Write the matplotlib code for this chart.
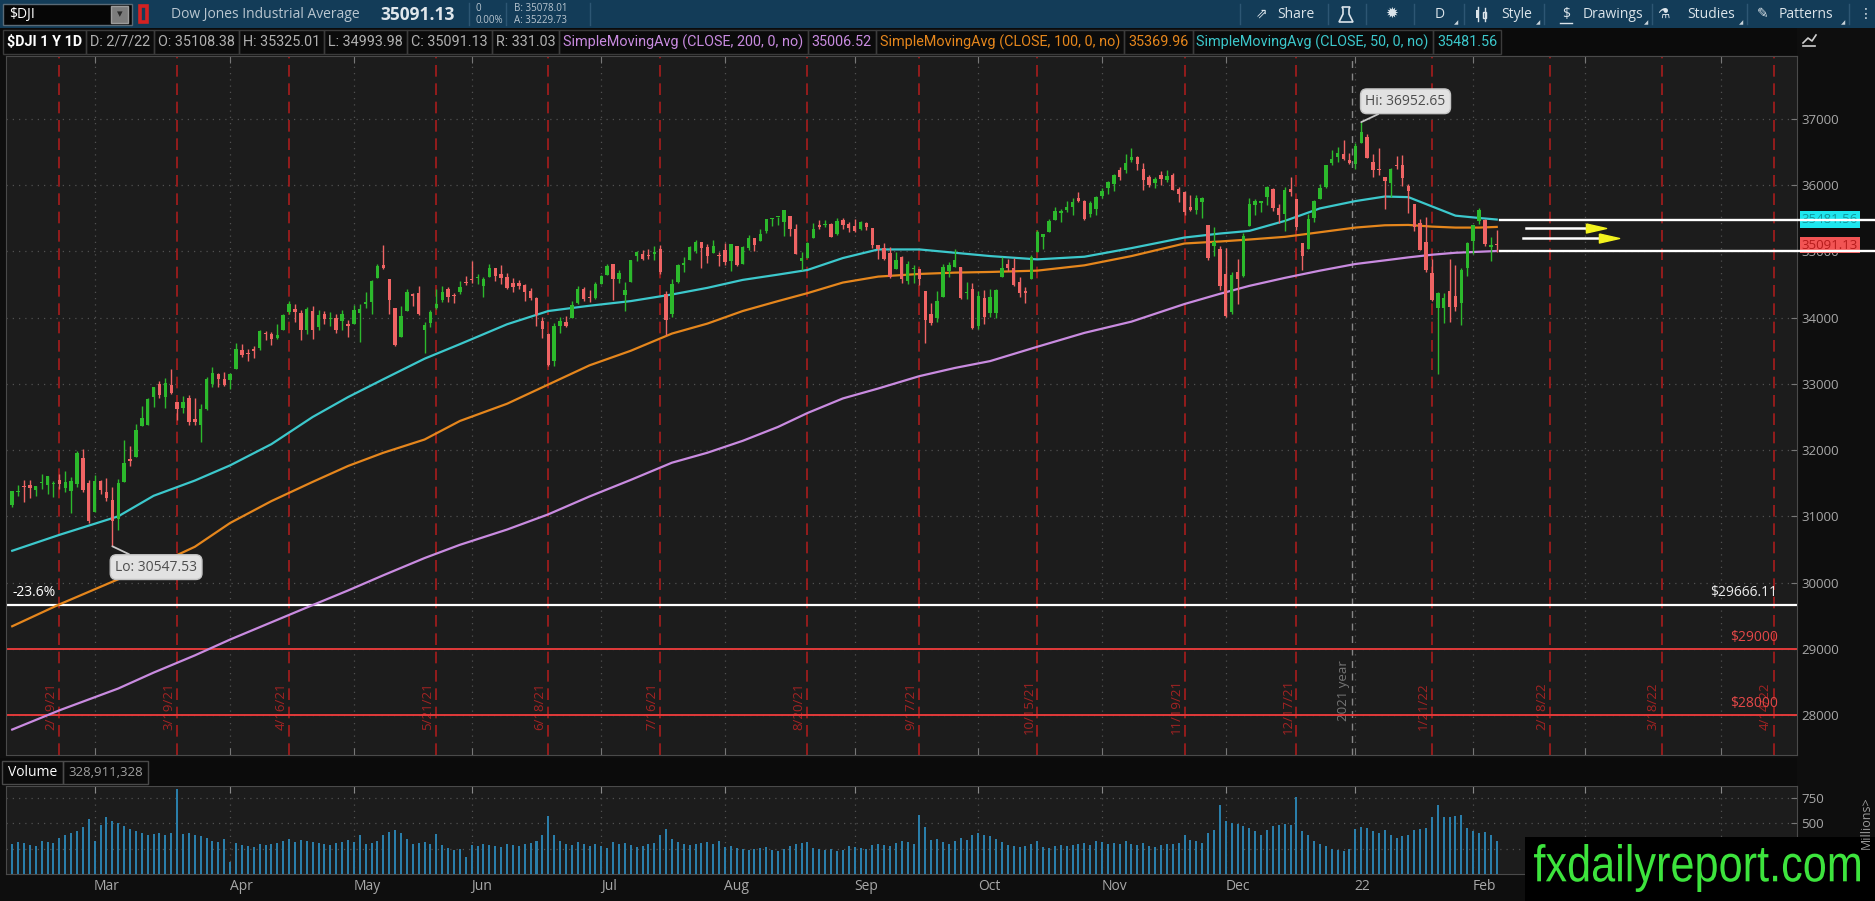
import numpy as np
import pandas as pd
import matplotlib
matplotlib.use("Agg")
import matplotlib.pyplot as plt
import matplotlib.transforms as mtransforms
from matplotlib.patches import Rectangle, PathPatch, Polygon
from matplotlib.textpath import TextPath
from matplotlib.font_manager import FontProperties
from matplotlib.transforms import Affine2D

plt.rcParams["font.family"] = ["Open Sans", "DejaVu Sans"]

# ---------------- data ----------------
market_holidays = ["2021-02-15", "2021-04-02", "2021-05-31", "2021-07-05", "2021-09-06",
                   "2021-11-25", "2021-12-24", "2022-01-17", "2022-02-21", "2022-04-15"]

# daily OHLC, $DJI, 2021-02-08 .. 2022-02-07 (one row per month)
opens = (
    [31171, 31370, 31448, 31479, 31402, 31497, 31468, 31490, 31542, 31431, 31384, 31484, 31883, 31505]
    + [31066, 31527, 31374, 31245, 30955, 31519, 31870, 31891, 32364, 32385, 32802, 32999, 32796, 32990, 32727, 32634, 32787, 32476, 32383, 32615, 33000, 33150, 33081]
    + [33055, 33222, 33518, 33452, 33528, 33539, 33765, 33754, 33694, 33816, 34083, 34136, 34072, 33811, 34108, 33859, 34051, 33979, 34001, 33951, 33908]
    + [33904, 34070, 34210, 34236, 34592, 34792, 34580, 34152, 33705, 34104, 34357, 34373, 33808, 33918, 34141, 34267, 34431, 34345, 34381, 34539]
    + [34584, 34598, 34479, 34617, 34752, 34664, 34613, 34517, 34519, 34486, 34395, 34303, 33951, 33759, 33339, 33872, 33928, 33990, 34220, 34439, 34309, 34296]
    + [34507, 34642, 34806, 34587, 34342, 34533, 34934, 34961, 34940, 34960, 35033, 34363, 34058, 34539, 34802, 34877, 35006, 35144, 35070, 34973, 34940]
    + [35017, 34849, 35082, 34805, 35053, 35198, 35150, 35310, 35486, 35516, 35443, 35536, 35341, 34849, 34897, 35199, 35395, 35395, 35410, 35264, 35469, 35411]
    + [35387, 35346, 35426, 35354, 35103, 35053, 34979, 34741, 34915, 34558, 34731, 34737, 34401, 34050, 33989, 34313, 34707, 34766, 34761, 34373, 34440]
    + [33874, 34293, 34069, 34077, 34609, 34803, 34745, 34543, 34406, 34585, 34992, 35220, 35294, 35475, 35577, 35622, 35677, 35814, 35758, 35560, 35645]
    + [35833, 35965, 36014, 36236, 36233, 36377, 36431, 36239, 36124, 36033, 36161, 36075, 36152, 35949, 35901, 35676, 35629, 35742, 35392, 35089, 35034]
    + [34657, 34081, 34692, 34636, 35379, 35701, 35730, 35825, 35944, 35662, 35571, 35945, 35790, 35123, 35040, 35498, 35785, 35973, 36330, 36421, 36469, 36374]
    + [36322, 36636, 36722, 36353, 36249, 36120, 36030, 36300, 36304, 35991, 35720, 35425, 35142, 34677, 34143, 34140, 34410, 34326, 34224, 34748]
    + [35150, 35459, 35468, 35070, 35108.38]
)
highs = (
    [31387, 31467, 31541, 31543, 31459, 31644, 31614, 31536, 31643, 31686, 31594, 31981, 32010, 31554]
    + [31627, 31542, 31585, 31437, 31568, 32150, 32056, 32389, 32661, 32793, 32956, 33047, 33082, 33227, 32731, 32819, 32835, 32782, 32693, 33098, 33259, 33169, 33174]
    + [33167, 33617, 33595, 33531, 33578, 33810, 33800, 33780, 33900, 34058, 34257, 34201, 34122, 34161, 34182, 34116, 34099, 34087, 34050, 34123, 33958]
    + [34187, 34210, 34388, 34566, 34811, 35091, 34580, 34152, 34170, 34437, 34379, 34472, 33930, 34118, 34437, 34481, 34462, 34377, 34560, 34630]
    + [34849, 34656, 34608, 34816, 34752, 34792, 34680, 34600, 34576, 34503, 34444, 34311, 34007, 33768, 33918, 34003, 34021, 34244, 34474, 34459, 34424, 34536]
    + [34650, 34810, 34808, 34719, 34536, 34873, 35006, 35024, 35041, 35086, 35091, 34404, 34577, 34803, 34915, 35080, 35171, 35144, 35118, 35171, 34993]
    + [35120, 35118, 35082, 35076, 35245, 35207, 35340, 35492, 35511, 35520, 35631, 35536, 35419, 34997, 35138, 35428, 35472, 35480, 35423, 35512, 35509, 35437]
    + [35493, 35456, 35442, 35354, 35103, 35125, 35064, 34997, 34924, 34850, 34789, 34740, 34401, 34228, 34402, 34813, 34845, 35031, 34761, 34541, 34517]
    + [34401, 34411, 34437, 34431, 34909, 34893, 34899, 34620, 34458, 34945, 35320, 35265, 35490, 35669, 35637, 35765, 35801, 35892, 35780, 35755, 35839]
    + [35952, 36069, 36175, 36273, 36471, 36565, 36438, 36341, 36149, 36127, 36211, 36226, 36181, 35968, 35918, 35857, 35845, 35815, 35392, 35364, 35087]
    + [35045, 34685, 34890, 35274, 35808, 35794, 35760, 35985, 35961, 35710, 35978, 36120, 35790, 35123, 35565, 35778, 36019, 36302, 36527, 36571, 36679, 36484]
    + [36636, 36952.65, 36780, 36466, 36555, 36120, 36259, 36435, 36459, 36021, 35720, 35492, 35519, 34882, 34388, 34374, 34882, 34788, 34744, 35148]
    + [35406, 35650, 35496, 35217, 35325.01]
)
lows = (
    [31148, 31313, 31212, 31281, 31308, 31420, 31330, 31293, 31408, 31371, 31049, 31437, 31360, 30905]
    + [31066, 31333, 31233, 30547.53, 30790, 31519, 31766, 31891, 32364, 32385, 32650, 32783, 32631, 32853, 32454, 32557, 32374, 32386, 32120, 32605, 32946, 32960, 32971]
    + [32920, 33222, 33400, 33353, 33390, 33507, 33664, 33586, 33677, 33816, 34055, 33940, 33656, 33760, 33684, 33808, 33906, 33880, 33765, 33809, 33714]
    + [33904, 33638, 34153, 34056, 34592, 34734, 34050, 33570, 33705, 34104, 34173, 34038, 33473, 33853, 34131, 34240, 34233, 34223, 34357, 34488]
    + [34530, 34501, 34312, 34617, 34556, 34505, 34436, 34388, 34432, 34244, 34264, 33877, 33700, 33272, 33271, 33764, 33865, 33990, 34211, 34245, 34232, 34289]
    + [34507, 34642, 34274, 34520, 34095, 34533, 34863, 34870, 34879, 34870, 34656, 33741, 34016, 34525, 34689, 34877, 34977, 34745, 34831, 34973, 34773]
    + [34795, 34706, 34781, 34805, 35021, 35012, 35150, 35283, 35378, 35406, 35232, 35229, 34962, 34713, 34896, 35199, 35332, 35370, 35212, 35250, 35337, 35299]
    + [35299, 35321, 35320, 35051, 34881, 34866, 34601, 34741, 34529, 34510, 34522, 34489, 33613, 33892, 33937, 34313, 34609, 34766, 34288, 34285, 33830]
    + [33822, 33903, 34007, 33991, 34609, 34702, 34483, 34312, 34221, 34585, 34992, 35042, 35294, 35475, 35443, 35598, 35553, 35753, 35480, 35525, 35555]
    + [35802, 35862, 35908, 36085, 36186, 36345, 36231, 35927, 35967, 35951, 35999, 36051, 35931, 35748, 35544, 35611, 35567, 35502, 34865, 34932, 34424]
    + [34006, 34050, 34208, 34620, 35379, 35551, 35592, 35700, 35604, 35434, 35302, 35842, 35325, 34720, 35040, 35438, 35785, 35965, 36301, 36344, 36381, 36315]
    + [36246, 36636, 36407, 36120, 36155, 35641, 35825, 36249, 35995, 35581, 35311, 35024, 34683, 34258, 33150, 33913, 33933, 34104, 33892, 34628]
    + [34960, 35411, 35081, 34849, 34993.98]
)
closes = (
    [31386, 31376, 31438, 31431, 31458, 31523, 31613, 31494, 31494, 31522, 31537, 31962, 31402, 30932]
    + [31535, 31391, 31270, 30924, 31496, 31802, 31833, 32297, 32485, 32779, 32953, 32826, 33015, 32862, 32628, 32731, 32423, 32420, 32619, 33072, 33171, 33067, 32982]
    + [33153, 33527, 33430, 33446, 33503, 33801, 33746, 33677, 33731, 34036, 34200, 34078, 33821, 34137, 33815, 34043, 33982, 33985, 33820, 34060, 33875]
    + [34113, 34133, 34230, 34548, 34778, 34743, 34270, 33587, 34022, 34382, 34328, 34060, 33896, 34084, 34208, 34394, 34313, 34323, 34465, 34529]
    + [34575, 34600, 34577, 34756, 34630, 34599, 34447, 34466, 34480, 34393, 34299, 34033, 33823, 33290, 33877, 33945, 33874, 34196, 34433, 34283, 34292, 34503]
    + [34633, 34786, 34577, 34681, 34421, 34870, 34996, 34889, 34933, 34987, 34688, 33962, 34512, 34798, 34823, 35062, 35144, 35059, 34931, 35085, 34935]
    + [34838, 35117, 34793, 35065, 35209, 35102, 35265, 35485, 35500, 35516, 35625, 35343, 34961, 34894, 35120, 35336, 35367, 35406, 35214, 35456, 35400, 35361]
    + [35313, 35444, 35369, 35100, 35031, 34879, 34608, 34870, 34577, 34814, 34751, 34584, 33970, 33919, 34258, 34765, 34798, 34870, 34300, 34391, 33844]
    + [34326, 34003, 34315, 34417, 34755, 34746, 34496, 34378, 34377, 34912, 35295, 35259, 35458, 35610, 35603, 35677, 35742, 35757, 35491, 35731, 35820]
    + [35913, 36053, 36158, 36124, 36328, 36432, 36320, 36080, 36000, 36100, 36087, 36143, 35931, 35871, 35602, 35619, 35814, 35805, 34899, 35136, 34484]
    + [34022, 34640, 34580, 35227, 35720, 35754, 35754, 35971, 35651, 35544, 35927, 35898, 35365, 34932, 35493, 35754, 35951, 36302, 36398, 36488, 36398, 36338]
    + [36585, 36800, 36408, 36236, 36231, 36068, 36252, 36290, 36114, 35912, 35369, 35029, 34715, 34265, 34365, 34298, 34168, 34161, 34725, 35132]
    + [35405, 35629, 35111, 35090, 35091.13]
)
# volume, millions
volumes = (
    [300, 320, 310, 290, 280, 330, 320, 310, 360, 380, 400, 420, 460, 540]
    + [330, 480, 560, 520, 500, 470, 440, 420, 400, 380, 390, 400, 380, 400, 840, 390, 400, 380, 370, 360, 330, 320, 350]
    + [120, 310, 290, 280, 270, 300, 290, 300, 310, 330, 350, 320, 340, 330, 320, 310, 300, 290, 310, 320, 340]
    + [320, 380, 300, 310, 330, 380, 410, 430, 400, 350, 300, 310, 320, 300, 390, 290, 260, 240, 250, 170]
    + [290, 280, 300, 290, 280, 270, 300, 290, 280, 300, 310, 330, 380, 570, 380, 330, 300, 290, 320, 300, 280, 300]
    + [280, 260, 320, 300, 310, 290, 270, 280, 300, 310, 380, 440, 350, 320, 300, 290, 300, 310, 320, 300, 330]
    + [270, 280, 260, 250, 240, 250, 260, 270, 240, 230, 250, 280, 300, 310, 320, 260, 250, 240, 250, 230, 240, 280]
    + [270, 260, 250, 290, 300, 290, 280, 310, 330, 320, 300, 580, 460, 340, 350, 320, 300, 330, 360, 340, 380]
    + [400, 380, 370, 350, 320, 290, 280, 270, 280, 300, 330, 270, 260, 280, 290, 280, 290, 300, 310, 290, 330]
    + [320, 300, 310, 300, 330, 300, 290, 310, 280, 270, 290, 300, 300, 310, 380, 340, 330, 310, 400, 430, 680]
    + [520, 500, 490, 470, 450, 420, 380, 430, 470, 480, 490, 480, 760, 420, 380, 330, 300, 280, 250, 240, 230, 250]
    + [440, 460, 450, 420, 400, 430, 380, 360, 370, 380, 430, 440, 450, 560, 680, 560, 560, 570, 580, 450]
    + [420, 400, 410, 380, 328.911328]
)
last_volume = 328911328

sma_dates = ["2021-02-08", "2021-02-19", "2021-03-05", "2021-03-15", "2021-03-24", "2021-04-01",
             "2021-04-13", "2021-04-22", "2021-04-30", "2021-05-10", "2021-05-19", "2021-05-27",
             "2021-06-09", "2021-06-18", "2021-06-29", "2021-07-09", "2021-07-20", "2021-07-28",
             "2021-08-05", "2021-08-13", "2021-08-20", "2021-08-30", "2021-09-08", "2021-09-17",
             "2021-09-27", "2021-10-05", "2021-10-15", "2021-10-27", "2021-11-08", "2021-11-19",
             "2021-11-30", "2021-12-07", "2021-12-15", "2021-12-23", "2022-01-03", "2022-01-10",
             "2022-01-14", "2022-01-21", "2022-01-27", "2022-02-02", "2022-02-07"]
sma50 = [30480, 30720, 31000, 31310, 31540, 31770, 32090, 32500, 32800, 33070, 33380, 33600,
         33900, 34100, 34180, 34250, 34350, 34450, 34570, 34650, 34720, 34900, 35030, 35030,
         34980, 34930, 34880, 34920, 35050, 35210, 35270, 35310, 35460, 35650, 35760, 35829,
         35820, 35680, 35540, 35505, 35481.56]
sma100 = [29340, 29670, 30050, 30250, 30540, 30900, 31230, 31520, 31760, 31960, 32160, 32440,
          32700, 32990, 33280, 33500, 33760, 33910, 34100, 34250, 34370, 34530, 34620, 34660,
          34680, 34690, 34710, 34790, 34930, 35120, 35150, 35180, 35220, 35290, 35360, 35395,
          35400, 35375, 35360, 35360, 35369.96]
sma200 = [27780, 28070, 28400, 28640, 28900, 29140, 29400, 29660, 29880, 30110, 30370, 30570,
          30800, 31030, 31300, 31550, 31810, 31960, 32140, 32350, 32560, 32780, 32930, 33117,
          33240, 33344, 33560, 33770, 33940, 34206, 34360, 34480, 34600, 34710, 34810, 34865,
          34910, 34950, 34980, 34995, 35006.52]

expiry_dates = ["2021-02-19", "2021-03-19", "2021-04-16", "2021-05-21", "2021-06-18", "2021-07-16",
                "2021-08-20", "2021-09-17", "2021-10-15", "2021-11-19", "2021-12-17", "2022-01-21",
                "2022-02-18", "2022-03-18", "2022-04-14"]
expiry_labels = ["2/19/21", "3/19/21", "4/16/21", "5/21/21", "6/18/21", "7/16/21", "8/20/21",
                 "9/17/21", "10/15/21", "11/19/21", "12/17/21", "1/21/22", "2/18/22", "3/18/22", "4/14/22"]

price_ticks = [28000, 29000, 30000, 31000, 32000, 33000, 34000, 35000, 36000, 37000]
volume_ticks = [250, 500, 750]
fib_level = 29666.11
fib_label = "-23.6%"
red_levels = [29000, 28000]
# hand-drawn arrows: (start offset, tip offset, price)
arrow_rows = [(256.9, 270.5, 35353), (256.4, 272.7, 35202)]

# ---------------- style ----------------
W, H = 1875, 901
PLOT_BG = "#1c1c1c"
FIG_BG = "#0e0e0e"
GREEN = "#2cb92c"
RED = "#ef6464"
CYAN = "#3cc8cc"
ORANGE = "#e5861c"
VIOLET = "#c98be0"
GRID = "#505050"
EXP_RED = "#a81c1c"
TICK_GRAY = "#a8a8a8"
UI_FONT = ["Roboto", "DejaVu Sans"]

X0, X1 = 6, 1797          # plot pixel span
Y0, Y1 = 56, 755           # main panel
VY0, VY1 = 786, 874        # volume panel
PX_DAY = 5.891
FIRST_X = 12.2
xmin = (X0 - FIRST_X) / PX_DAY
xmax = xmin + (X1 - X0) / PX_DAY


def fig_rect(x0, y0, x1, y1):
    return [x0 / W, 1 - y1 / H, (x1 - x0) / W, (y1 - y0) / H]


days = pd.bdate_range("2021-02-08", "2022-04-29", freq="C", holidays=market_holidays)
n = len(closes)
xs = np.arange(n)
o = np.array(opens, float)
h = np.array(highs, float)
l = np.array(lows, float)
c = np.array(closes, float)
sma_x = days.get_indexer(pd.to_datetime(sma_dates))
exp_x = days.get_indexer(pd.to_datetime(expiry_dates))
mstart = np.flatnonzero(np.r_[True, days.month[1:] != days.month[:-1]])[1:]
mlabels = [("%02d" % (days[i].year % 100)) if days[i].month == 1 else days[i].strftime("%b") for i in mstart]
year_x = mstart[[days[i].month == 1 for i in mstart].index(True)] - 0.5

fig = plt.figure(figsize=(W / 100, H / 100), dpi=100, facecolor=FIG_BG)

# ---------------- main price panel ----------------
ax = fig.add_axes(fig_rect(X0, Y0, X1, Y1), facecolor=PLOT_BG)
ax.set_xlim(xmin, xmax)
ax.set_ylim(27396, 37951)
for s in ax.spines.values():
    s.set_color("#4a4a4a")
ax.set_yticks(price_ticks)
ax.set_yticklabels([str(t) for t in price_ticks])
ax.yaxis.tick_right()
ax.tick_params(axis="y", direction="in", length=4, color="#777777", labelcolor=TICK_GRAY,
               labelsize=9.5, pad=3)
ax.set_xticks(mstart)
ax.tick_params(axis="x", direction="in", length=5, color="#777777", top=True, bottom=True,
               labelbottom=False)
ax.grid(True, color=GRID, linestyle=(0, (1, 4)), linewidth=0.9)
ax.set_axisbelow(True)

blend = mtransforms.blended_transform_factory(ax.transData, ax.transAxes)
for xi, lab in zip(exp_x, expiry_labels):
    ax.axvline(xi, color=EXP_RED, lw=1.2, ls=(0, (7, 4)), zorder=1)
    ax.text(xi - 0.3, 0.07, lab, transform=blend, rotation=90, ha="right", va="center",
            color="#a32323", fontsize=9.5, zorder=1)
ax.axvline(year_x, color="#858585", lw=1.0, ls=(0, (5, 4)), zorder=1)
ax.text(year_x - 0.4, 0.092, "2021 year", transform=blend, rotation=90, ha="right", va="center",
        color="#767676", fontsize=9.5, zorder=1)

# levels
ax.axhline(fib_level, color="white", lw=1.6, zorder=2)
for lv in red_levels:
    ax.axhline(lv, color="#e23a3a", lw=1.4, zorder=2)
yblend = mtransforms.blended_transform_factory(ax.transAxes, ax.transData)
ax.annotate(fib_label, xy=(0.0035, fib_level), xycoords=yblend, xytext=(0, 3),
            textcoords="offset points", ha="left", va="bottom", color="white", fontsize=10)
ax.annotate("$%.2f" % fib_level, xy=(0.9888, fib_level), xycoords=yblend, xytext=(0, 3),
            textcoords="offset points", ha="right", va="bottom", color="#ececec", fontsize=10)
for lv in red_levels:
    ax.annotate("$%d" % lv, xy=(0.9894, lv), xycoords=yblend, xytext=(0, 3),
                textcoords="offset points", ha="right", va="bottom", color="#e34848", fontsize=10)

# moving averages
ax.plot(sma_x, sma200, color=VIOLET, lw=1.6, zorder=3)
ax.plot(sma_x, sma100, color=ORANGE, lw=1.6, zorder=3)
ax.plot(sma_x, sma50, color=CYAN, lw=1.6, zorder=3)

# candles
up = c >= o
cols = np.where(up, GREEN, RED)
ax.vlines(xs, l, h, colors=cols, lw=1.0, zorder=4)
body = np.maximum(np.abs(c - o), 15)
ax.bar(xs, body, bottom=np.minimum(o, c), width=0.58, color=cols, linewidth=0, zorder=4)

# hi / lo callouts
hi_i, lo_i = int(np.argmax(h)), int(np.argmin(l))
box = dict(boxstyle="round,pad=0.35,rounding_size=0.45", fc="#e2e2e2", ec="#c4c4c4", lw=1)
ax.annotate("Hi: %.2f" % h[hi_i], xy=(hi_i, h[hi_i]), xytext=(3, 15), textcoords="offset points",
            ha="left", va="center", color="#4d4d4d", fontsize=10, bbox=box, zorder=7,
            arrowprops=dict(arrowstyle="-", color="#c8c8c8", lw=1.3, shrinkA=0, shrinkB=0))
ax.annotate("Lo: %.2f" % l[lo_i], xy=(lo_i, l[lo_i]), xytext=(2, -15), textcoords="offset points",
            ha="left", va="center", color="#4d4d4d", fontsize=10, bbox=box, zorder=7,
            arrowprops=dict(arrowstyle="-", color="#c8c8c8", lw=1.3, shrinkA=0, shrinkB=0))

# right-side value tags and white rays
ax.annotate("%.2f" % sma50[-1], xy=(1.0, sma50[-1]), xycoords=yblend, xytext=(3.5, 0),
            textcoords="offset points", ha="left", va="center", color="#11959b", fontsize=9.5,
            bbox=dict(boxstyle="square,pad=0.12", fc="#1ee6ee", ec="none"),
            annotation_clip=False, zorder=5)
ax.annotate("%.2f" % c[-1], xy=(1.0, c[-1]), xycoords=yblend, xytext=(3.5, 0),
            textcoords="offset points", ha="left", va="center", color="#b51b1b", fontsize=9.5,
            bbox=dict(boxstyle="square,pad=0.12", fc="#f25454", ec="none"),
            annotation_clip=False, zorder=5)
x_far = xmin + (W - X0) / PX_DAY
for lv in (sma50[-1], sma200[-1]):
    ax.plot([n - 0.4, x_far], [lv, lv], color="white", lw=1.7, clip_on=False, zorder=8)

head = [(-1, 0.45), (1, 0), (-1, -0.45), (-1, 0.45)]
for x_start, x_tip, lv in arrow_rows:
    ax.plot([x_start, x_tip - 2.5], [lv, lv], color="white", lw=1.8, zorder=8)
    ax.plot([x_tip - 1.7], [lv], marker=head, ms=14.5, color="#f3f31e", mec="#f3f31e",
            linestyle="none", zorder=9)

# ---------------- volume panel ----------------
vax = fig.add_axes(fig_rect(X0, VY0, X1, VY1), facecolor=PLOT_BG)
vax.set_xlim(xmin, xmax)
vax.set_ylim(0, 868)
for s in vax.spines.values():
    s.set_color("#4a4a4a")
vax.bar(xs, volumes, width=0.34, color="#2a7eaa", linewidth=0, zorder=3)
vax.set_yticks(volume_ticks)
vax.yaxis.tick_right()
vax.tick_params(axis="y", direction="in", length=4, color="#777777", labelcolor=TICK_GRAY,
                labelsize=9.5, pad=3)
vax.set_xticks(mstart)
vax.tick_params(axis="x", direction="in", length=5, color="#888888", top=True, bottom=False,
                labelbottom=False)
vax.grid(True, color=GRID, linestyle=(0, (1, 4)), linewidth=0.9)
vax.set_axisbelow(True)
vblend = mtransforms.blended_transform_factory(vax.transData, vax.transAxes)
for xi, lab in zip(mstart, mlabels):
    vax.text(xi - 0.1, -0.14, lab, transform=vblend, ha="left", va="center",
             color=TICK_GRAY, fontsize=10)

# ---------------- interface chrome ----------------
ui = fig.add_axes([0, 0, 1, 1], zorder=10)
ui.set_xlim(0, W)
ui.set_ylim(H, 0)
ui.axis("off")
renderer = fig.canvas.get_renderer()
TB = "#dbe4ea"

# toolbar row
ui.add_patch(Rectangle((0, 0), W, 28, fc="#133c58", ec="none"))
ui.add_patch(Rectangle((3, 4), 129, 21, fc="#060606", ec="#5a6a76", lw=1))
ui.text(9, 14.5, "$DJI", color="white", fontsize=10, va="center")
ui.add_patch(Rectangle((111, 6), 17, 17, fc="#7c7c7c", ec="#9c9c9c", lw=1))
ui.text(119.5, 14.5, "▾", color="#2a2a2a", fontsize=8, ha="center", va="center")
ui.add_patch(Rectangle((140, 6), 7, 16, fc="none", ec="#d42222", lw=2.6))
ui.text(171, 14.5, "Dow Jones Industrial Average", color="#b9c6d0", fontsize=10, va="center")
ui.text(380, 14.5, "%.2f" % c[-1], color="#e0e7ec", fontsize=12.5, fontweight="bold", va="center")
ui.text(476, 8.5, "0", color="#b9c6d0", fontsize=7, va="center")
ui.text(476, 20.5, "0.00%", color="#b9c6d0", fontsize=7, va="center")
ui.text(514, 8.5, "B: 35078.01", color="#b9c6d0", fontsize=7, va="center")
ui.text(514, 20.5, "A: 35229.73", color="#b9c6d0", fontsize=7, va="center")
for sx in (469, 506, 590):
    ui.plot([sx, sx], [3, 25], color="#2d5673", lw=1)

tools = [(1262, "⇗"), (1296, "Share"), (1440, "D"), (1517, "Style"),
         (1566, "$"), (1613, "Drawings"), (1663, "⚗"), (1711, "Studies"), (1763, "✎"),
         (1806, "Patterns"), (1866, "⋮")]
for tx, label in tools:
    ui.text(tx, 14.5, label, color=TB, fontsize=10, ha="center", va="center")
ui.text(1392, 14.5, "✹", color=TB, fontsize=11, ha="center", va="center")
# flask and candle icons drawn as shapes
ui.add_patch(Polygon([(1342, 7), (1350, 7), (1349, 9), (1349, 14), (1353, 22), (1339, 22),
                      (1343, 14), (1343, 9)], closed=True, fc="none", ec=TB, lw=1.2))
ui.add_patch(Rectangle((1476, 10), 3, 8, fc=TB, ec="none"))
ui.plot([1477.5, 1477.5], [7, 21], color=TB, lw=1)
ui.add_patch(Rectangle((1483, 12), 3, 6, fc="none", ec=TB, lw=1))
ui.plot([1484.5, 1484.5], [8, 21], color=TB, lw=1)
ui.plot([1560, 1572], [23, 23], color=TB, lw=1)
for sx in (1240, 1328, 1366, 1414, 1464, 1544, 1652, 1747, 1849):
    ui.plot([sx, sx], [4, 24], color="#2d5673", lw=1)
for cx in (1456, 1538, 1646, 1741, 1843):
    ui.text(cx, 23, "◢", color="#c9d3da", fontsize=4, ha="center", va="center")

# study legend row, fitted so the last box ends where the reference's does
ui.add_patch(Rectangle((0, 28), X1, 27, fc="#0b0b0b", ec="none"))
legend_items = [
    ("$DJI 1 Y 1D", "white", "bold"),
    ("D: %s" % "2/7/22", "#b0b0b0", "normal"),
    ("O: %.2f" % o[-1], "#b0b0b0", "normal"),
    ("H: %.2f" % h[-1], "#b0b0b0", "normal"),
    ("L: %.2f" % l[-1], "#b0b0b0", "normal"),
    ("C: %.2f" % c[-1], "#b0b0b0", "normal"),
    ("R: %.2f" % (h[-1] - l[-1]), "#b0b0b0", "normal"),
    ("SimpleMovingAvg (CLOSE, 200, 0, no)", VIOLET, "normal"),
    ("%.2f" % sma200[-1], VIOLET, "normal"),
    ("SimpleMovingAvg (CLOSE, 100, 0, no)", ORANGE, "normal"),
    ("%.2f" % sma100[-1], ORANGE, "normal"),
    ("SimpleMovingAvg (CLOSE, 50, 0, no)", CYAN, "normal"),
    ("%.2f" % sma50[-1], CYAN, "normal"),
]
PAD = 8
probe = 0.0
for text, color, weight in legend_items:
    t = ui.text(0, 0, text, fontsize=10, fontweight=weight, family=UI_FONT)
    probe += t.get_window_extent(renderer).width
    t.remove()
legend_fs = 10 * (1503 - 3 - PAD * len(legend_items)) / probe
lx = 3
for text, color, weight in legend_items:
    t = ui.text(lx + PAD / 2, 42, text, color=color, fontsize=legend_fs, fontweight=weight,
                family=UI_FONT, ha="left", va="center")
    tw = t.get_window_extent(renderer).width
    ui.add_patch(Rectangle((lx, 30), tw + PAD, 24, fc="none", ec="#3b3b3b", lw=1))
    lx += tw + PAD
ui.plot([1803, 1815], [46, 46], color="#cfcfcf", lw=1.2)
ui.plot([1803, 1808, 1812, 1816], [43, 38, 41, 35], color="#cfcfcf", lw=1.2)

# volume header
ui.add_patch(Rectangle((0, 758), X1, 28, fc="#0b0b0b", ec="none"))
t = ui.text(8, 772, "Volume", color="white", fontsize=10, va="center")
vw = t.get_window_extent(renderer).width
ui.add_patch(Rectangle((2, 761), vw + 12, 23, fc="none", ec="#4a4a4a", lw=1))
t2 = ui.text(vw + 19, 772, "{:,}".format(last_volume), color="#a0a0a0", fontsize=9.5, va="center")
tw2 = t2.get_window_extent(renderer).width
ui.add_patch(Rectangle((vw + 14, 761), tw2 + 10, 23, fc="none", ec="#4a4a4a", lw=1))
ui.text(1866, 796, "Millions>", color="#9a9a9a", fontsize=9, rotation=90,
        ha="center", va="top")

# watermark
ui.add_patch(Rectangle((1525, 837), W - 1525, H - 837, fc="black", ec="none"))
tp = TextPath((0, 0), "fxdailyreport.com", size=100, prop=FontProperties(family="Liberation Sans"))
bb = tp.get_extents()
tr = Affine2D().translate(-bb.x0, -bb.y1).scale(326 / bb.width, -48 / bb.height).translate(1534, 844)
ui.add_patch(PathPatch(tr.transform_path(tp), fc="#3de43d", ec="none"))

fig.savefig("out.png", dpi=100, facecolor=FIG_BG)
